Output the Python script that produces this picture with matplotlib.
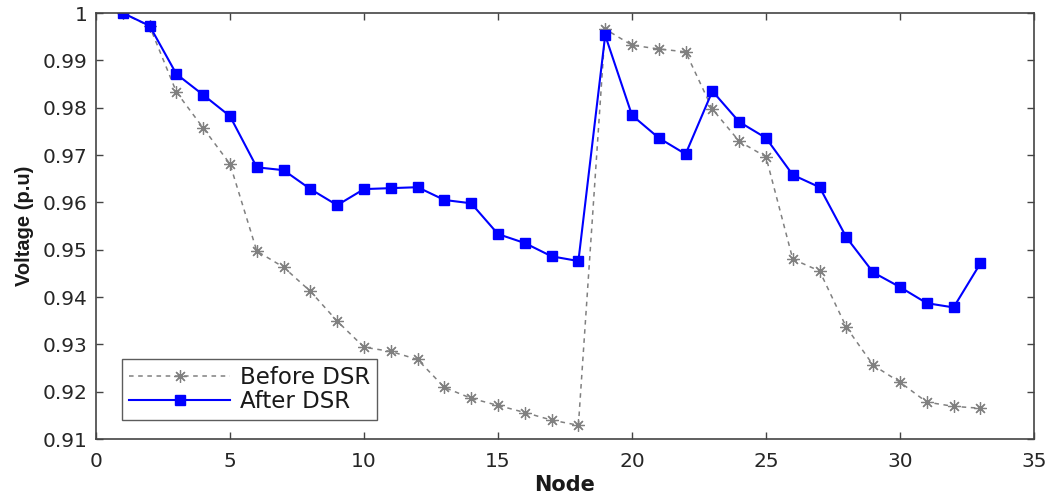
import matplotlib
matplotlib.use("Agg")
import matplotlib.pyplot as plt

plt.rcParams['font.family'] = ['DejaVu Sans']

nodes = list(range(1, 34))
before_dsr = [1.0, 0.9972, 0.9833, 0.9757, 0.9681, 0.9497, 0.9463, 0.9412, 0.9349,
              0.9294, 0.9285, 0.9268, 0.9209, 0.9186, 0.9171, 0.9156, 0.9140, 0.9129,
              0.9966, 0.9932, 0.9924, 0.9918, 0.9797, 0.9729, 0.9696, 0.9480, 0.9455,
              0.9336, 0.9256, 0.9220, 0.9178, 0.9169, 0.9165]
after_dsr = [1.0, 0.9973, 0.9871, 0.9827, 0.9782, 0.9674, 0.9668, 0.9628, 0.9594,
             0.9628, 0.9630, 0.9632, 0.9605, 0.9598, 0.9533, 0.9514, 0.9486, 0.9476,
             0.9953, 0.9784, 0.9736, 0.9702, 0.9835, 0.9770, 0.9736, 0.9658, 0.9632,
             0.9526, 0.9452, 0.9421, 0.9387, 0.9378, 0.9471]
xticks = [0, 5, 10, 15, 20, 25, 30, 35]
yticks = [0.91, 0.92, 0.93, 0.94, 0.95, 0.96, 0.97, 0.98, 0.99, 1.0]
ytick_labels = ['0.91', '0.92', '0.93', '0.94', '0.95', '0.96', '0.97', '0.98', '0.99', '1']

fig = plt.figure(figsize=(10.54, 4.93), dpi=100)
ax = fig.add_axes([0.0911, 0.1095, 0.8899, 0.8641])

ax.plot(nodes, before_dsr, linestyle=(0, (3, 3)), color='#808080', linewidth=1.1,
        marker=(8, 2, 0), markersize=9, markeredgewidth=0.9, markerfacecolor='#808080',
        markeredgecolor='#808080', label='Before DSR')
ax.plot(nodes, after_dsr, linestyle='-', color='#0000ff', linewidth=1.5,
        marker='s', markersize=6.8, markerfacecolor='#0000ff', markeredgecolor='#0000ff',
        label='After DSR')

ax.set_xlim(0, 35)
ax.set_ylim(0.91, 1.0)
ax.set_xticks(xticks)
ax.set_yticks(yticks)
ax.set_yticklabels(ytick_labels)
ax.tick_params(direction='in', top=True, right=True, length=5, width=1,
               color='#444444', labelsize=14.5, labelcolor='#262626')
ax.tick_params(axis='x', pad=9)
ax.tick_params(axis='y', pad=6)
for s in ax.spines.values():
    s.set_color('#444444')
    s.set_linewidth(1.2)

ax.set_xlabel('Node', fontsize=15, fontweight='bold', labelpad=3, color='#1a1a1a')
ax.set_ylabel('Voltage (p.u)', fontsize=14.5, fontweight='bold', labelpad=6,
              family=['Liberation Sans', 'DejaVu Sans'], color='#1a1a1a')

leg = ax.legend(loc='lower left', bbox_to_anchor=(0.028, 0.045), fontsize=16.5,
                frameon=True, fancybox=False, edgecolor='#333333', handlelength=4.4,
                borderpad=0.3, labelspacing=0.05, handletextpad=0.45, borderaxespad=0)
leg.get_frame().set_linewidth(1.0)
for t in leg.get_texts():
    t.set_color('#1a1a1a')

fig.savefig('out.png', dpi=100)
